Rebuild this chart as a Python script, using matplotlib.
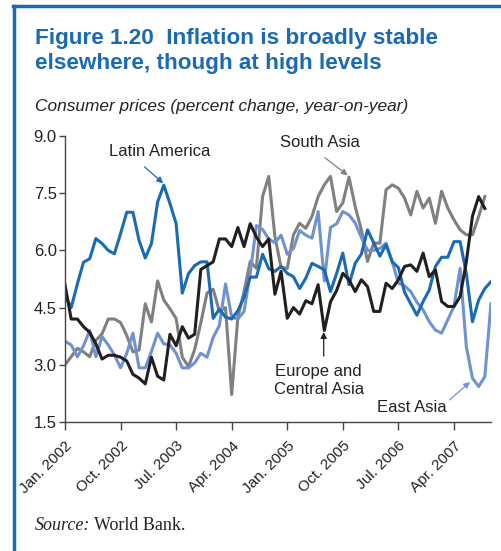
import numpy as np
import matplotlib
matplotlib.use("Agg")
import matplotlib.pyplot as plt

plt.rcParams['font.family'] = ['Liberation Sans', 'DejaVu Sans']

nan = np.nan

# monthly, Jan. 2002 .. Oct. 2007
tick_months = [0, 9, 18, 27, 36, 45, 54, 63]
tick_labels = ["Jan. 2002", "Oct. 2002", "Jul. 2003", "Apr. 2004",
               "Jan. 2005", "Oct. 2005", "Jul. 2006", "Apr. 2007"]
yticks = [1.5, 3.0, 4.5, 6.0, 7.5, 9.0]

latin_america = [4.82, 4.5, 5.12, 5.69, 5.78, 6.31, 6.18, 6.0, 5.91, 6.44,
                 7.0, 7.0, 6.26, 5.8, 6.18, 7.27, 7.71, 7.23, 6.7, 4.88,
                 5.39, 5.6, 5.7, 5.7, 4.22, 4.46, 4.25, 4.2, 4.42, 4.77,
                 5.3, 5.3, 5.9, 5.52, 5.45, 5.58, 5.4, 5.31, 5.0, 5.27,
                 5.66, 5.58, 5.49, 4.92, 5.4, 5.93, 5.1, 5.66, 5.9, 6.54,
                 6.2, 5.85, 6.15, 5.7, 5.55, 4.9, 4.6, 4.3, 4.66, 4.96,
                 5.58, 5.82, 5.82, 6.23, 6.23, 5.4, 4.13, 4.7, 5.0, 5.18]

europe_central_asia = [5.1, 4.2, 4.2, 4.0, 3.85, 3.55, 3.15, 3.25, 3.25, 3.2,
                       3.1, 2.75, 2.65, 2.5, 3.2, 2.7, 2.6, 3.8, 3.5, 4.0,
                       3.7, 3.8, 5.5, 5.6, 5.7, 6.3, 6.3, 6.1, 6.6, 6.1,
                       6.7, 6.35, 6.1, 6.3, 4.85, 5.45, 4.22, 4.5, 4.33, 4.68,
                       4.6, 5.1, 3.9, 4.65, 4.95, 5.4, 5.23, 4.92, 5.23, 5.05,
                       4.4, 4.4, 5.14, 5.0, 5.23, 5.58, 5.62, 5.45, 5.93, 5.31,
                       5.49, 4.66, 4.53, 4.53, 4.79, 5.7, 6.9, 7.41, 7.1, nan]

south_asia = [3.0, 3.21, 3.43, 3.34, 3.21, 3.64, 3.81, 4.2, 4.2, 4.11,
              3.77, 3.34, 3.39, 4.6, 4.12, 5.2, 4.7, 4.47, 4.21, 3.2,
              2.95, 3.4, 4.1, 4.88, 4.98, 4.4, 4.5, 2.22, 4.25, 4.92,
              5.71, 5.53, 7.41, 7.94, 6.36, 5.55, 5.53, 6.41, 6.71, 6.58,
              6.89, 7.41, 7.72, 7.94, 7.02, 7.25, 7.92, 7.15, 6.54, 5.71,
              6.19, 6.19, 7.59, 7.72, 7.63, 7.37, 6.93, 7.55, 7.11, 7.37,
              6.71, 7.55, 7.11, 6.8, 6.54, 6.41, 6.41, 6.89, 7.41, nan]

east_asia = [3.62, 3.52, 3.21, 3.5, 3.9, 3.21, 3.74, 3.52, 3.26, 2.92,
             3.3, 3.83, 2.92, 2.92, 3.35, 3.83, 3.55, 3.52, 3.3, 2.92,
             2.92, 3.05, 3.3, 3.2, 3.72, 4.03, 5.12, 4.25, 4.2, 4.4,
             5.4, 6.65, 6.55, 6.3, 6.2, 6.4, 5.9, 6.05, 6.52, 6.4,
             6.32, 7.02, 5.2, 6.6, 6.7, 7.02, 6.93, 6.72, 6.34, 6.0,
             6.0, 6.05, 6.19, 5.7, 5.14, 5.07, 4.92, 4.64, 4.44, 4.13,
             3.91, 3.83, 4.18, 4.53, 5.53, 3.48, 2.65, 2.43, 2.69, 4.61]

months = np.arange(len(latin_america))

c_latin = "#1b6ab4"
c_east = "#6f93d0"
c_south = "#808080"
c_europe = "#231f20"
c_title = "#1b6ab4"
c_text = "#222222"

fig = plt.figure(figsize=(5.02, 5.51), dpi=100)

# blue frame on the left and top
fig.add_artist(plt.Line2D([0.027, 0.027], [0, 0.99], transform=fig.transFigure,
                          color=c_title, lw=2.5))
fig.add_artist(plt.Line2D([0.025, 1.0], [0.99, 0.99], transform=fig.transFigure,
                          color=c_title, lw=2.5))

fig.text(35 / 502, 1 - 51 / 551, "Figure 1.20  Inflation is broadly stable\nelsewhere, though at high levels",
         fontsize=16.2, fontweight='bold', color=c_title, va='center', ha='left',
         linespacing=1.3)
fig.text(35 / 502, 1 - 107 / 551, "Consumer prices (percent change, year-on-year)",
         fontsize=12.4, style='italic', color=c_text, va='center', ha='left')

ax = fig.add_axes([65 / 502, 1 - 422 / 551, (491 - 65) / 502, (422 - 136) / 551])

ax.plot(months, south_asia, color=c_south, lw=2.2)
ax.plot(months, east_asia, color=c_east, lw=2.2)
ax.plot(months, latin_america, color=c_latin, lw=2.2)
ax.plot(months, europe_central_asia, color=c_europe, lw=2.2)

ax.set_xlim(0, 69)
ax.set_ylim(1.5, 9.0)
ax.set_yticks(yticks)
ax.set_yticklabels([f"{v:.1f}" for v in yticks])
ax.set_xticks(tick_months)
ax.set_xticklabels(tick_labels, rotation=45, ha='right', va='top',
                   rotation_mode='anchor')

for s in ['top', 'right']:
    ax.spines[s].set_visible(False)
for s in ['left', 'bottom']:
    ax.spines[s].set_color('#444444')
    ax.spines[s].set_linewidth(1.0)
ax.tick_params(axis='y', length=4, width=1, color='#444444', labelsize=12, pad=2,
               labelcolor=c_text)
ax.tick_params(axis='x', length=6, width=1, color='#444444', labelsize=11, pad=6,
               labelcolor=c_text)

arrow = dict(arrowstyle='-|>', lw=0.9, mutation_scale=9, shrinkA=0, shrinkB=0)

# Latin America
ax.text(15.4, 8.59, "Latin America", fontsize=12, ha='center', va='center', color=c_text)
ax.annotate("", xy=(15.9, 7.76), xytext=(12.9, 8.19),
            arrowprops=dict(arrow, color=c_latin))
# South Asia
ax.text(41.3, 8.82, "South Asia", fontsize=12, ha='center', va='center', color=c_text)
ax.annotate("", xy=(45.8, 7.97), xytext=(42.1, 8.43),
            arrowprops=dict(arrow, color=c_south))
# Europe and Central Asia
ax.text(41.1, 2.6, "Europe and\nCentral Asia", fontsize=12, ha='center', va='center',
        color=c_text, linespacing=1.25)
ax.annotate("", xy=(41.9, 3.86), xytext=(41.9, 3.23),
            arrowprops=dict(arrow, color=c_europe))
# East Asia
ax.text(56.1, 1.87, "East Asia", fontsize=12, ha='center', va='center', color=c_text)
ax.annotate("", xy=(65.6, 2.55), xytext=(62.3, 2.08),
            arrowprops=dict(arrow, color=c_east))

t1 = fig.text(35 / 502, 1 - 525 / 551, "Source:", fontsize=13, style='italic',
              family=['Liberation Serif', 'DejaVu Serif'], va='center', ha='left',
              color=c_text)
fig.canvas.draw()
bb = t1.get_window_extent()
fig.text(bb.x1 / 502 + 0.008, 1 - 525 / 551, "World Bank.", fontsize=13,
         family=['Liberation Serif', 'DejaVu Serif'], va='center', ha='left',
         color=c_text)

fig.savefig("out.png", dpi=100)
